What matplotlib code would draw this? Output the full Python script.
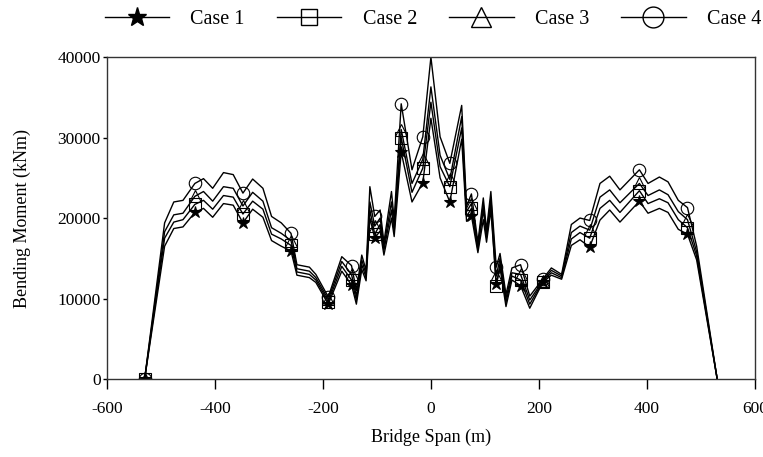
import numpy as np
import matplotlib
matplotlib.use('Agg')
import matplotlib.pyplot as plt
from matplotlib.lines import Line2D

plt.rcParams['font.family'] = ['Liberation Serif', 'DejaVu Serif']
plt.rcParams['axes.unicode_minus'] = False

# Datos
span = [-530, -493, -476, -459, -437, -421, -404, -384, -366, -348, -330, -311, -295, -277,
        -259, -248, -225, -213, -190, -165, -147, -138, -128, -120, -113, -104, -94, -87,
        -73, -68, -55, -35, -15, 0, 17, 35, 57, 66, 75, 87, 97, 103, 111, 121, 128, 139,
        150, 166, 183, 207, 223, 242, 260, 276, 294, 313, 331, 350, 386, 402, 423, 439,
        458, 475, 492, 530]

case1 = [0, 16500, 18700, 18900, 20700, 21200, 20100, 21800, 21600, 19400, 21100, 20100,
         17200, 16500, 15900, 12900, 12600, 12000, 9300, 13400, 11700, 9300, 13600, 12200,
         20000, 17500, 18400, 15400, 20000, 17700, 28200, 22000, 24400, 32400, 25000, 22000,
         29800, 19600, 20300, 15700, 19800, 17000, 21000, 11800, 13800, 9000, 12300, 11600,
         8800, 12000, 12900, 12400, 16600, 17300, 16400, 19750, 21000, 19500, 22100, 20600,
         21200, 20700, 18600, 18000, 14800, 0]
case2 = [0, 17500, 19500, 19800, 21700, 22200, 21100, 22800, 22600, 20500, 22100, 21100,
         18000, 17400, 16600, 13300, 13000, 12300, 9600, 14000, 12300, 9800, 14200, 12600,
         21000, 18000, 19200, 16000, 21000, 18300, 30000, 23200, 26200, 34400, 26400, 23900,
         31200, 20200, 21200, 16100, 21000, 17600, 21800, 11500, 14400, 9500, 12800, 12300,
         9300, 12100, 13200, 12600, 17400, 18200, 17500, 21200, 22200, 20700, 23400, 21800,
         22400, 21900, 19800, 18800, 15300, 0]
case3 = [0, 18300, 20400, 20600, 22700, 23300, 22100, 23900, 23700, 21500, 23200, 22100,
         18800, 18100, 17200, 13700, 13400, 12600, 9900, 14600, 13000, 10300, 14800, 13000,
         22000, 19000, 20000, 16500, 22000, 19000, 31000, 24300, 27300, 36300, 27800, 24800,
         32600, 20800, 21800, 16500, 21700, 18000, 22500, 12800, 15000, 10000, 13200, 13000,
         9800, 12200, 13500, 12800, 18200, 19000, 18500, 22600, 23500, 21900, 24300, 22800,
         23500, 22900, 20800, 19800, 15800, 0]
case4 = [0, 19400, 22000, 22200, 24300, 24900, 23700, 25650, 25400, 23100, 24850, 23700,
         20200, 19400, 18100, 14200, 13900, 13000, 10200, 15200, 14100, 11000, 15400, 13500,
         23900, 20200, 21000, 17000, 23300, 19800, 34200, 26000, 30100, 40000, 30100, 26800,
         34000, 21500, 23000, 17000, 22500, 18500, 23300, 13900, 15600, 10500, 13800, 14200,
         10300, 12400, 13800, 13000, 19200, 20000, 19700, 24300, 25200, 23500, 26000, 24300,
         25100, 24500, 22200, 21300, 16500, 0]

# posiciones con marcador
marker_span = [-530, -437, -348, -259, -190, -147, -104, -55, -15, 35, 75, 121, 166, 207,
               294, 386, 475]

labels = ['Case 1', 'Case 2', 'Case 3', 'Case 4']
markers = ['*', 's', '^', 'o']
series = [case1, case2, case3, case4]

for s in series:
    assert len(s) == len(span)

mark_idx = list(np.where(np.isin(span, marker_span))[0])

fig = plt.figure(figsize=(7.63, 4.57), dpi=100)
ax = fig.add_axes([0.140, 0.1707, 0.8495, 0.7043])

for s, m in zip(series, markers):
    fc = 'black' if m == '*' else 'none'
    ax.plot(span, s, color='black', linewidth=1.0, marker=m, markersize=9,
            markerfacecolor=fc, markeredgecolor='black', markeredgewidth=0.8,
            markevery=mark_idx)

ax.set_xlim(-600, 600)
ax.set_ylim(0, 40000)
ax.set_xticks(np.arange(-600, 601, 200))
ax.set_yticks(np.arange(0, 40001, 10000))
ax.tick_params(axis='x', direction='out', length=7, width=1, pad=9, labelsize=12.5)
ax.tick_params(axis='y', direction='out', length=3, width=1, pad=1.5, labelsize=12.5)
for sp in ax.spines.values():
    sp.set_linewidth(1.0)
    sp.set_color('#333333')

ax.set_xlabel('Bridge Span (m)', fontsize=13, labelpad=8)
ax.set_ylabel('Bending Moment (kNm)', fontsize=13, labelpad=19)

# Leyenda arriba
leg_sizes = [14, 12, 14, 15]
handles = []
for m, lab, ms in zip(markers, labels, leg_sizes):
    fc = 'black' if m == '*' else 'none'
    handles.append(Line2D([0], [0], color='black', linewidth=1.0, marker=m, markersize=ms,
                          markerfacecolor=fc, markeredgecolor='black', markeredgewidth=1.0,
                          label=lab))
fig.legend(handles=handles, loc='center', bbox_to_anchor=(0.5675, 0.958), ncol=4,
           frameon=False, fontsize=14.5, handlelength=3.2, columnspacing=1.6,
           handletextpad=1.05)

fig.savefig('out.png', dpi=100)
